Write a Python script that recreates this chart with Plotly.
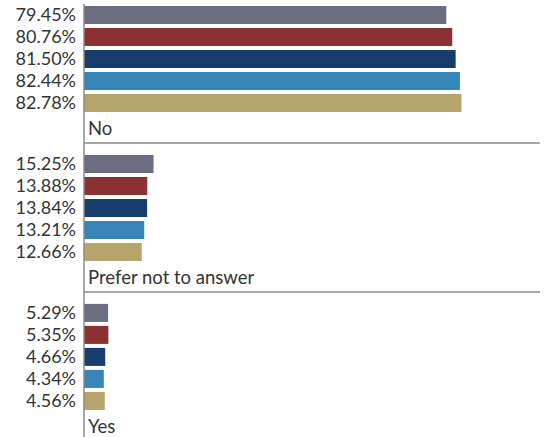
import plotly.graph_objects as go

categories = ["No", "Prefer not to answer", "Yes"]
series_names = ["Series 1", "Series 2", "Series 3", "Series 4", "Series 5"]
series_values = [
    [79.45, 15.25, 5.29],
    [80.76, 13.88, 5.35],
    [81.50, 13.84, 4.66],
    [82.44, 13.21, 4.34],
    [82.78, 12.66, 4.56],
]
colors = ["#6b6d81", "#8c3033", "#173d6d", "#3585b7", "#b6a46b"]

GROUP = 6.77
FONT = "Lato"
TXT = "#333333"

fig = go.Figure()
tickvals, ticktext = [], []
for s, (name, vals) in enumerate(zip(series_names, series_values)):
    ys = [g * GROUP + s for g in range(len(categories))]
    fig.add_trace(go.Bar(
        x=vals, y=ys, orientation="h", name=name,
        marker=dict(color=colors[s], line=dict(width=0)),
        width=0.82, showlegend=False,
    ))
    tickvals += ys
    ticktext += [f"{v:.2f}%" for v in vals]

for g, cat in enumerate(categories):
    fig.add_annotation(x=0, y=g * GROUP + 5.14, xref="x", yref="y",
                       text=cat, showarrow=False, xanchor="left", xshift=2,
                       font=dict(family=FONT, size=18.5, color=TXT))
    if g > 0:
        fig.add_shape(type="line", xref="paper", yref="y",
                      x0=0, x1=1, y0=g * GROUP - 0.95, y1=g * GROUP - 0.95,
                      line=dict(color="#8a8a8a", width=1.5))

fig.add_shape(type="line", xref="paper", yref="paper", x0=0, x1=0, y0=0, y1=0.991,
              line=dict(color="#8a8a8a", width=1.5))

fig.update_xaxes(range=[0, 100], visible=False)
fig.update_yaxes(range=[19.18, -0.68], tickvals=tickvals, ticktext=ticktext,
                 showgrid=False, zeroline=False, showline=False, automargin=False,
                 ticklabelstandoff=7, ticklabeloverflow="allow",
                 tickfont=dict(family=FONT, size=18, color=TXT))
fig.update_layout(
    width=545, height=437,
    margin=dict(l=84, r=5, t=0, b=0),
    plot_bgcolor="white", paper_bgcolor="white",
    barmode="overlay",
)
fig.write_html("out.html", config={"displayModeBar": False},
               post_script="document.body.style.margin='0';document.body.style.overflow='hidden';")
